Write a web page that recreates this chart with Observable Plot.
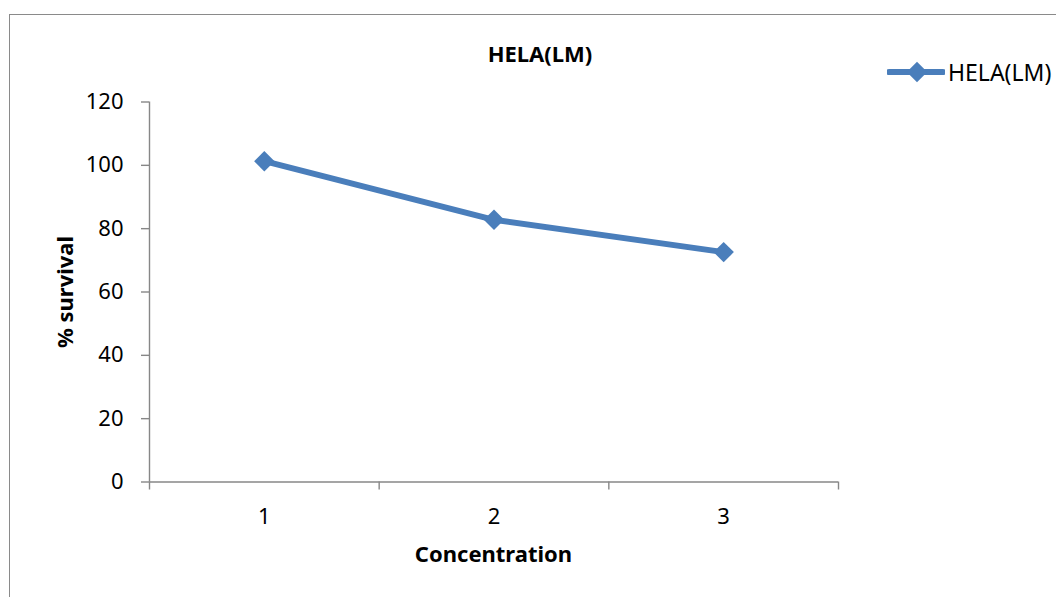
<!DOCTYPE html>
<html>
<head>
<meta charset="utf-8">
<script src="https://cdn.jsdelivr.net/npm/d3@7"></script>
<script src="https://cdn.jsdelivr.net/npm/@observablehq/plot@0.6"></script>
<style>
  html, body { margin: 0; padding: 0; background: #fff; }
  #chart { position: relative; width: 1056px; height: 597px; overflow: hidden; font-family: "Noto Sans", sans-serif; color: #000; }
  #border { position: absolute; left: 9px; top: 14px; width: 2000px; height: 2000px;
            border-left: 1.5px solid #8a8a8a; border-top: 1.5px solid #8a8a8a; }
  #title { position: absolute; left: 0; width: 1080px; top: 38px; text-align: center;
           font-weight: bold; font-size: 22px; line-height: 30px; }
  #legend { position: absolute; left: 887px; top: 57px; display: flex; align-items: center;
            font-size: 23px; line-height: 30px; }
  #legend svg { display: block; margin-right: 3px; }
  #plot { position: absolute; left: 0; top: 0; }
  .axis-title { position: absolute; font-weight: bold; font-size: 22px; line-height: 30px; text-align: center; white-space: nowrap; }
</style>
</head>
<body>
<div id="chart">
  <div id="border"></div>
  <div id="plot"></div>
  <div id="title"></div>
  <div id="legend"></div>
</div>
<script>
// HeLa cell survival at three concentrations
const seriesName = "HELA(LM)";
const concentrations = [1, 2, 3];
const survival = [101.3, 82.8, 72.6];
const yTicks = [0, 20, 40, 60, 80, 100, 120];
const xLabel = "Concentration";
const yLabel = "% survival";
const lineColor = "#4a7ebb";
const axisColor = "#878787";

const data = concentrations.map((c, i) => ({concentration: c, survival: survival[i]}));
// category boundaries, where the x-axis tick marks sit
const edges = concentrations.map(c => c - 0.5).concat([concentrations[concentrations.length - 1] + 0.5]);

const plot = Plot.plot({
  width: 1056,
  height: 597,
  marginLeft: 149,
  marginRight: 218,
  marginTop: 101.5,
  marginBottom: 115.5,
  style: {fontFamily: "'Noto Sans', sans-serif", fontSize: "22px", color: "#000", background: "transparent"},
  x: {domain: [edges[0], edges[edges.length - 1]]},
  y: {domain: [0, 120]},
  marks: [
    Plot.axisY({ticks: yTicks, tickSize: 8, tickPadding: 18, stroke: axisColor, strokeWidth: 1.4,
                strokeOpacity: 1, label: null, fill: "#000"}),
    Plot.axisX({ticks: edges, tickSize: 8, tickFormat: () => "", stroke: axisColor, strokeWidth: 1.4,
                strokeOpacity: 1, label: null}),
    Plot.axisX({ticks: concentrations, tickSize: 0, tickPadding: 26.5, tickFormat: d3.format("d"),
                label: null, fill: "#000"}),
    // axis lines
    Plot.ruleX([edges[0]], {stroke: axisColor, strokeWidth: 1.4}),
    Plot.ruleY([0], {stroke: axisColor, strokeWidth: 1.4}),
    Plot.line(data, {x: "concentration", y: "survival", stroke: lineColor, strokeWidth: 6}),
    Plot.dot(data, {x: "concentration", y: "survival", symbol: "diamond2", r: 9.2, fill: lineColor, stroke: "none"})
  ]
});
document.getElementById("plot").appendChild(plot);

const chart = document.getElementById("chart");

// x-axis title, centred under the plot area
const xt = document.createElement("div");
xt.className = "axis-title";
xt.textContent = xLabel;
Object.assign(xt.style, {left: "149px", width: "689px", top: "538px"});
chart.appendChild(xt);

// y-axis title, rotated and centred beside the plot area
const yt = document.createElement("div");
yt.className = "axis-title";
yt.textContent = yLabel;
Object.assign(yt.style, {left: "-36px", width: "200px", top: "276.5px", transform: "rotate(-90deg)", transformOrigin: "100px 15px"});
chart.appendChild(yt);

document.getElementById("title").textContent = seriesName;

// legend: line swatch with a diamond marker
const legend = document.getElementById("legend");
const sw = d3.create("svg").attr("width", 58).attr("height", 30);
sw.append("line").attr("x1", 2).attr("x2", 56).attr("y1", 15).attr("y2", 15)
  .attr("stroke", lineColor).attr("stroke-width", 6).attr("stroke-linecap", "round");
sw.append("path").attr("transform", "translate(30,15)")
  .attr("d", d3.symbol(d3.symbolDiamond2, Math.PI * 9.2 * 9.2)()).attr("fill", lineColor);
legend.appendChild(sw.node());
const lt = document.createElement("span");
lt.textContent = seriesName;
legend.appendChild(lt);
</script>
</body>
</html>
